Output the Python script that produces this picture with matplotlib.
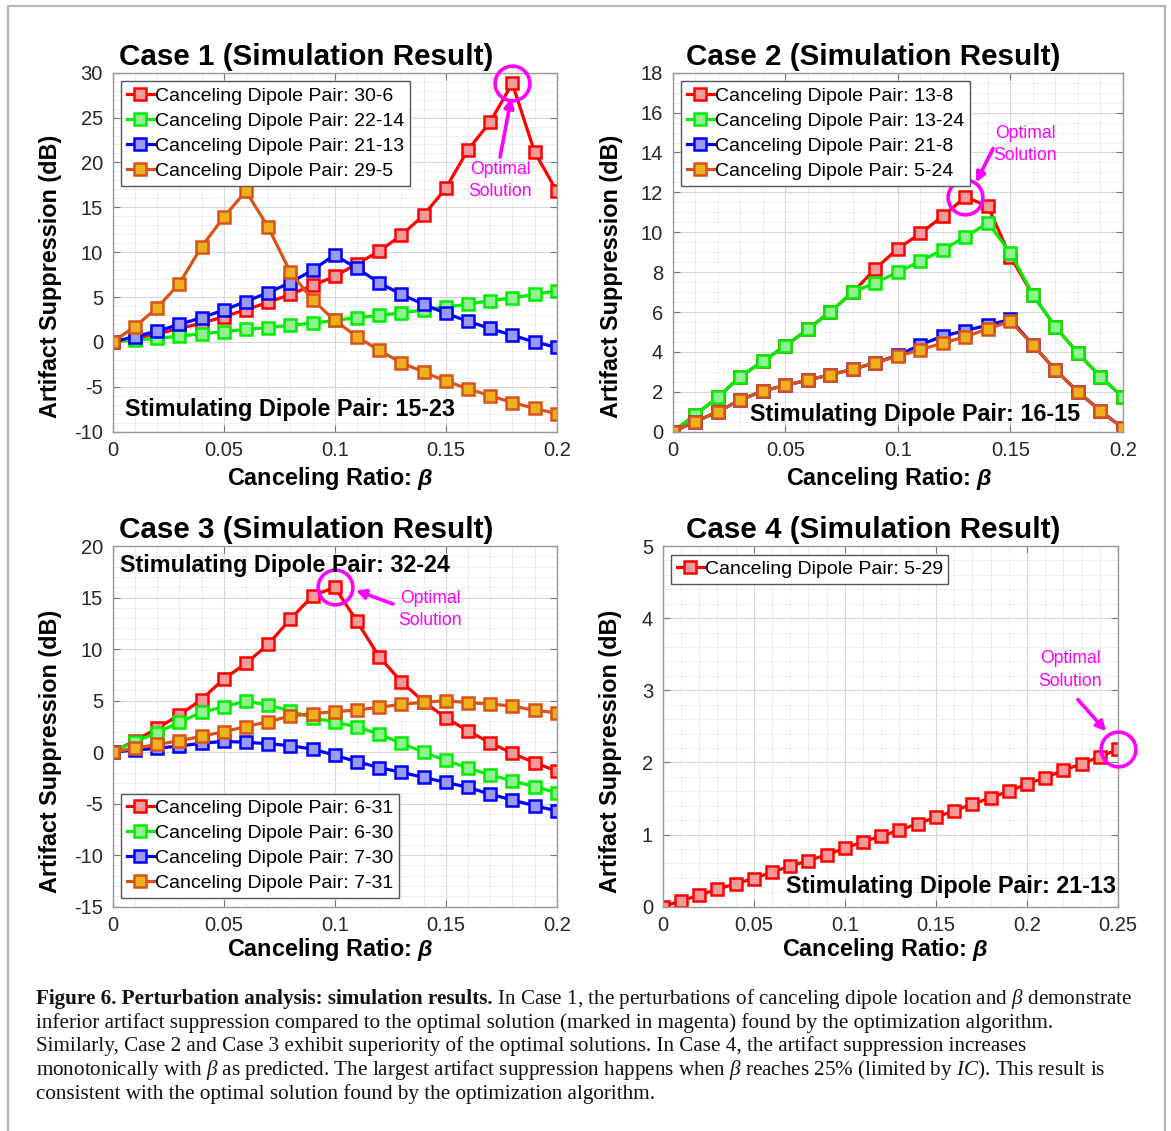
import matplotlib
matplotlib.use('Agg')
import matplotlib.pyplot as plt
from matplotlib import font_manager
from matplotlib.ticker import MultipleLocator, FuncFormatter
from matplotlib.patches import Rectangle

names = {f.name for f in font_manager.fontManager.ttflist}
narrow = 'Liberation Sans Narrow' in names
bold_font = 'Liberation Sans Narrow' if narrow else 'Liberation Sans'
k = 1.0 if narrow else 0.82   # shrink sizes when no narrow face

plt.rcParams['font.family'] = ['Liberation Sans', 'DejaVu Sans']
plt.rcParams['axes.unicode_minus'] = False
plt.rcParams['mathtext.fontset'] = 'custom'
plt.rcParams['mathtext.rm'] = 'Liberation Serif'
plt.rcParams['mathtext.it'] = 'Liberation Serif:italic'
plt.rcParams['mathtext.bfit'] = 'Liberation Sans:bold:italic'

# ---------------- data ----------------
beta_20 = [0, 0.01, 0.02, 0.03, 0.04, 0.05, 0.06, 0.07, 0.08, 0.09, 0.1,
           0.11, 0.12, 0.13, 0.14, 0.15, 0.16, 0.17, 0.18, 0.19, 0.2]
beta_25 = beta_20 + [0.21, 0.22, 0.23, 0.24, 0.25]

# Case 1, stimulating pair 15-23
case1_labels = ['Canceling Dipole Pair: 30-6', 'Canceling Dipole Pair: 22-14',
                'Canceling Dipole Pair: 21-13', 'Canceling Dipole Pair: 29-5']
case1_30_6 = [0, 0.4, 0.9, 1.5, 2.1, 2.8, 3.6, 4.4, 5.3, 6.3, 7.3, 8.7, 10.1,
              11.9, 14.1, 17.1, 21.4, 24.5, 28.8, 21.2, 16.8]
case1_22_14 = [0, 0.2, 0.4, 0.65, 0.9, 1.15, 1.4, 1.6, 1.85, 2.1, 2.4, 2.7, 2.95,
               3.25, 3.55, 3.9, 4.2, 4.6, 4.9, 5.3, 5.7]
case1_21_13 = [0, 0.6, 1.2, 1.95, 2.7, 3.55, 4.5, 5.5, 6.6, 8.0, 9.7, 8.2, 6.6,
               5.3, 4.2, 3.2, 2.3, 1.5, 0.75, 0.0, -0.6]
case1_29_5 = [0, 1.7, 3.8, 6.5, 10.6, 13.9, 16.8, 12.8, 7.8, 4.7, 2.4, 0.6, -0.95,
              -2.3, -3.35, -4.35, -5.2, -6.0, -6.75, -7.4, -8.0]

# Case 2, stimulating pair 16-15
case2_labels = ['Canceling Dipole Pair: 13-8', 'Canceling Dipole Pair: 13-24',
                'Canceling Dipole Pair: 21-8', 'Canceling Dipole Pair: 5-24']
case2_13_8 = [0, 0.84, 1.72, 2.76, 3.53, 4.3, 5.13, 6.02, 6.99, 8.17, 9.18, 9.94,
              10.81, 11.77, 11.3, 8.77, 6.85, 5.26, 3.93, 2.76, 1.72]
case2_13_24 = [0, 0.84, 1.72, 2.76, 3.53, 4.3, 5.13, 6.02, 6.99, 7.47, 7.99, 8.56,
               9.11, 9.78, 10.46, 8.98, 6.85, 5.26, 3.93, 2.76, 1.72]
case2_21_8 = [0, 0.5, 1.0, 1.59, 2.04, 2.32, 2.59, 2.86, 3.13, 3.46, 3.83, 4.35,
              4.8, 5.06, 5.35, 5.63, 4.35, 3.09, 2.0, 1.05, 0.17]
case2_5_24 = [0, 0.5, 1.0, 1.59, 2.04, 2.32, 2.59, 2.86, 3.13, 3.46, 3.78, 4.11,
              4.45, 4.76, 5.16, 5.53, 4.35, 3.09, 2.0, 1.05, 0.17]

# Case 3, stimulating pair 32-24
case3_labels = ['Canceling Dipole Pair: 6-31', 'Canceling Dipole Pair: 6-30',
                'Canceling Dipole Pair: 7-30', 'Canceling Dipole Pair: 7-31']
case3_6_31 = [0, 1.1, 2.3, 3.6, 5.1, 7.1, 8.6, 10.45, 12.9, 15.15, 16.0, 12.7,
              9.26, 6.84, 4.9, 3.34, 2.05, 0.92, -0.12, -1.02, -1.83]
case3_6_30 = [0, 1.0, 1.88, 2.9, 3.85, 4.4, 4.95, 4.56, 4.0, 3.34, 2.92, 2.44,
              1.76, 0.85, 0.0, -0.8, -1.54, -2.2, -2.78, -3.35, -3.93]
case3_7_30 = [0, 0.2, 0.37, 0.6, 0.85, 1.05, 0.95, 0.82, 0.62, 0.3, -0.3, -0.93,
              -1.5, -1.96, -2.45, -2.93, -3.42, -4.07, -4.65, -5.2, -5.7]
case3_7_31 = [0, 0.37, 0.75, 1.1, 1.53, 1.98, 2.47, 2.95, 3.5, 3.73, 3.92, 4.09,
              4.35, 4.64, 4.83, 4.99, 4.8, 4.67, 4.47, 4.05, 3.82]

# Case 4, stimulating pair 21-13
case4_labels = ['Canceling Dipole Pair: 5-29']
case4_5_29 = [0, 0.08, 0.16, 0.24, 0.32, 0.39, 0.48, 0.56, 0.64, 0.72, 0.81, 0.9,
              0.98, 1.06, 1.15, 1.24, 1.33, 1.42, 1.51, 1.6, 1.7, 1.79, 1.89,
              1.98, 2.08, 2.18]

titles = ['Case 1 (Simulation Result)', 'Case 2 (Simulation Result)',
          'Case 3 (Simulation Result)', 'Case 4 (Simulation Result)']
stim = ['Stimulating Dipole Pair: 15-23', 'Stimulating Dipole Pair: 16-15',
        'Stimulating Dipole Pair: 32-24', 'Stimulating Dipole Pair: 21-13']

# line colour / marker fill
edge = ['#ff0000', '#00ee00', '#0000ff', '#d95319']
face = ['#f59a9a', '#90f290', '#9a9af5', '#edb120']
MAGENTA = '#ff00ff'

W, H = 1171, 1131
fig = plt.figure(figsize=(W / 100, H / 100), dpi=100)


def box(l, r, t, b):
    return [l / W, 1 - b / H, (r - l) / W, (b - t) / H]


def style(ax, xmax, ylim, ymajor, yminor):
    ax.set_xlim(0, xmax)
    ax.set_ylim(*ylim)
    ax.xaxis.set_major_locator(MultipleLocator(0.05))
    ax.xaxis.set_minor_locator(MultipleLocator(0.01))
    ax.yaxis.set_major_locator(MultipleLocator(ymajor))
    ax.yaxis.set_minor_locator(MultipleLocator(yminor))
    fmt = FuncFormatter(lambda v, p: '%g' % round(v, 3))
    ax.xaxis.set_major_formatter(fmt)
    ax.yaxis.set_major_formatter(fmt)
    ax.grid(which='major', color='#d8d8d8', lw=0.8)
    ax.grid(which='minor', color='#ececec', lw=0.6)
    ax.set_axisbelow(True)
    ax.tick_params(which='both', direction='in', top=True, right=True,
                   colors='#262626', labelsize=14.5, pad=7)
    ax.tick_params(which='major', length=5, color='#777777')
    ax.tick_params(which='minor', length=0)
    for s in ax.spines.values():
        s.set_color('#9a9a9a')
        s.set_linewidth(1.0)


def series(ax, x, ys, labels):
    for i, (y, lab) in enumerate(zip(ys, labels)):
        ax.plot(x, y, '-s', color=edge[i], mfc=face[i], mec=edge[i], lw=2.3,
                ms=8, mew=1.8, label=lab)


def legend(ax, loc):
    lg = ax.legend(loc=loc, fontsize=14, handlelength=1.35, handletextpad=0.05,
                   borderpad=0.3, labelspacing=0.38, borderaxespad=0.45,
                   fancybox=False, framealpha=1, edgecolor='#555555')
    lg.get_frame().set_linewidth(1.0)


def optimal(ax, x, y, txt_xy, tail, head):
    i = max(range(len(y)), key=lambda j: y[j])
    ax.plot(x[i], y[i], 'o', ms=25, mfc='none', mec=MAGENTA, mew=2.6,
            clip_on=False, zorder=5)
    ax.text(*txt_xy, 'Optimal\nSolution', color=MAGENTA, ha='center', va='center',
            family=bold_font, fontsize=15.5 * k, linespacing=1.4)
    ax.annotate('', xy=head, xytext=tail,
                arrowprops=dict(arrowstyle='-|>', color=MAGENTA, lw=2.6,
                                mutation_scale=14, shrinkA=0, shrinkB=0))


def labels(ax, title, title_x, xl_x, xl_y, yl_x, yl_y, title_y):
    ax.text(title_x, title_y, title, transform=ax.transAxes, ha='center',
            va='baseline', fontsize=26 * k, fontweight='bold', family=bold_font)
    ax.set_xlabel(r'Canceling Ratio: $\mathbfit{\beta}$', fontsize=20.5 * k,
                  fontweight='bold', family=bold_font, va='center')
    ax.xaxis.set_label_coords(xl_x, xl_y)
    ax.set_ylabel('Artifact Suppression (dB)', fontsize=20.5 * k,
                  fontweight='bold', family=bold_font, va='center')
    ax.yaxis.set_label_coords(yl_x, yl_y)


stim_kw = dict(fontsize=20.5 * k, fontweight='bold', family=bold_font,
               va='center', zorder=6)

# ---- Case 1
ax1 = fig.add_axes(box(112.7, 556.7, 72.7, 431.7))
style(ax1, 0.2, (-10, 30), 5, 1)
series(ax1, beta_20, [case1_30_6, case1_22_14, case1_21_13, case1_29_5], case1_labels)
legend(ax1, 'upper left')
optimal(ax1, beta_20, case1_30_6, (0.1745, 18.0), (0.1745, 20.6), (0.1795, 27.2))
ax1.text(0.028, 0.063, stim[0], transform=ax1.transAxes, ha='left', **stim_kw)
labels(ax1, titles[0], 0.435, 0.49, -0.129, -0.141, 0.434, 1.021)

# ---- Case 2
ax2 = fig.add_axes(box(672.7, 1123, 72.7, 431.7))
style(ax2, 0.2, (0, 18), 2, 0.5)
series(ax2, beta_20, [case2_13_8, case2_13_24, case2_21_8, case2_5_24], case2_labels)
legend(ax2, 'upper left')
optimal(ax2, beta_20, case2_13_8, (0.1565, 14.4), (0.1423, 14.2), (0.1347, 12.5))
ax2.text(0.172, 0.047, stim[1], transform=ax2.transAxes, ha='left', **stim_kw)
labels(ax2, titles[1], 0.445, 0.48, -0.129, -0.135, 0.434, 1.021)

# ---- Case 3
ax3 = fig.add_axes(box(112.7, 556.7, 546, 906.7))
style(ax3, 0.2, (-15, 20), 5, 1)
series(ax3, beta_20, [case3_6_31, case3_6_30, case3_7_30, case3_7_31], case3_labels)
legend(ax3, 'lower left')
optimal(ax3, beta_20, case3_6_31, (0.143, 13.8), (0.1263, 14.37), (0.1095, 15.7))
ax3.text(0.017, 0.947, stim[2], transform=ax3.transAxes, ha='left', **stim_kw)
labels(ax3, titles[2], 0.435, 0.49, -0.12, -0.141, 0.432, 1.022)

# ---- Case 4
ax4 = fig.add_axes(box(662.7, 1118, 546, 906.7))
style(ax4, 0.25, (0, 5), 1, 0.2)
series(ax4, beta_25, [case4_5_29], case4_labels)
legend(ax4, 'upper left')
optimal(ax4, beta_25, case4_5_29, (0.2236, 3.28), (0.228, 2.87), (0.2435, 2.43))
ax4.text(0.996, 0.055, stim[3], transform=ax4.transAxes, ha='right', **stim_kw)
labels(ax4, titles[3], 0.462, 0.488, -0.12, -0.114, 0.432, 1.022)

# ---- caption
cap_font = ['Liberation Serif', 'DejaVu Serif']
cap_kw = dict(fontsize=15.2, family=cap_font, color='#111111', va='center')
cap_lines = [
    r' In Case 1, the perturbations of canceling dipole location and $\beta$ demonstrate',
    'inferior artifact suppression compared to the optimal solution (marked in magenta) found by the optimization algorithm.',
    'Similarly, Case 2 and Case 3 exhibit superiority of the optimal solutions. In Case 4, the artifact suppression increases',
    r'monotonically with $\beta$ as predicted. The largest artifact suppression happens when $\beta$ reaches 25% (limited by $IC$). This result is',
    'consistent with the optimal solution found by the optimization algorithm.',
]
cap_y = [999, 1023, 1046, 1070, 1094]
head = fig.text(36 / W, 1 - cap_y[0] / H, 'Figure 6. Perturbation analysis: simulation results.',
                fontweight='bold', **cap_kw)
fig.add_artist(plt.Annotation(cap_lines[0], xy=(1, 0.5), xycoords=head,
                              ha='left', **cap_kw))
for line, y in zip(cap_lines[1:], cap_y[1:]):
    fig.text(36 / W, 1 - y / H, line, **cap_kw)

# outer frame
fig.add_artist(Rectangle((8 / W, -0.01), (1165 - 8) / W, 1 - 6 / H + 0.01,
                         transform=fig.transFigure, fill=False,
                         edgecolor='#b5b5b5', lw=1.6))

fig.savefig('out.png', dpi=100, facecolor='white')
